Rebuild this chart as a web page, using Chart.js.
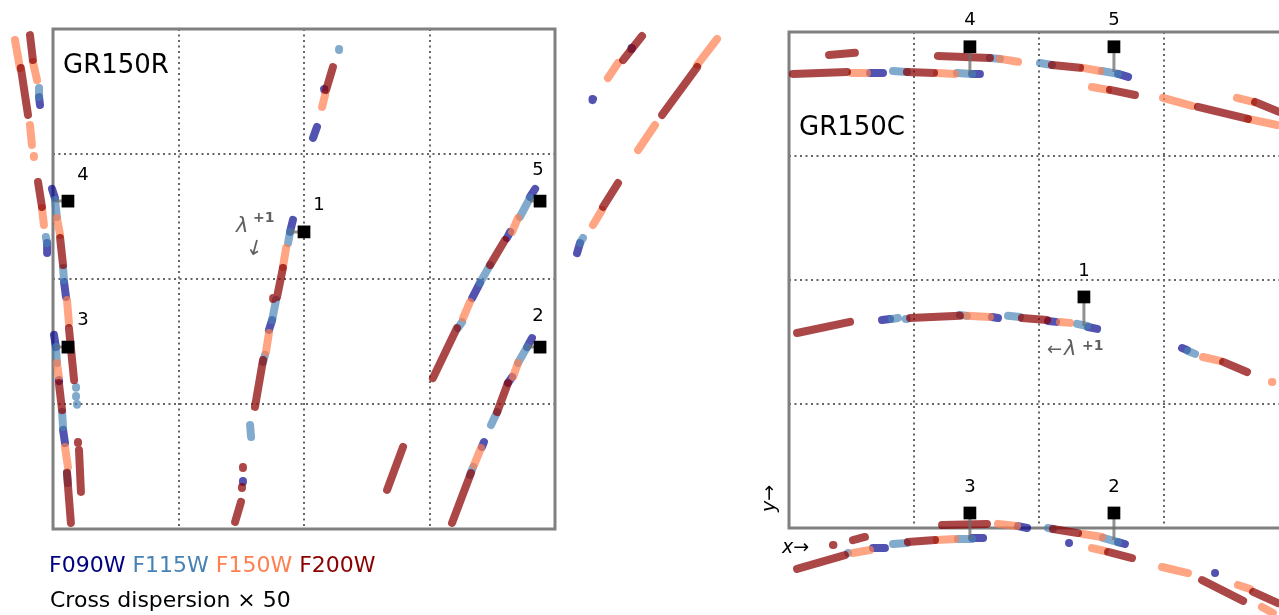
<!DOCTYPE html>
<html>
<head>
<meta charset="utf-8">
<script src="https://cdn.jsdelivr.net/npm/chart.js@4.4.1/dist/chart.umd.min.js"></script>
<style>
  body { margin: 0; width: 1279px; height: 615px; overflow: hidden; background: #fff; position: relative; font-family: 'DejaVu Sans', sans-serif; }
  #cR { position: absolute; left: 0; top: 0; }
  #cC { position: absolute; left: 760px; top: 0; }
  .t { position: absolute; white-space: nowrap; line-height: 1; }
  .ann { color: #606060; }
</style>
</head>
<body>
<canvas id="cR" width="760" height="615"></canvas>
<canvas id="cC" width="560" height="615"></canvas>

<div class="t" style="left:63px;top:51px;font-size:26px;">GR150R</div>
<div class="t" style="left:799px;top:113px;font-size:26px;">GR150C</div>

<div class="t" style="left:49px;top:554px;font-size:22px;"><span style="color:#000080">F090W</span> <span style="color:#4682b4">F115W</span> <span style="color:#ff7f50">F150W</span> <span style="color:#8b0000">F200W</span></div>
<div class="t" style="left:50px;top:589px;font-size:22px;">Cross dispersion × 50</div>

<div class="t ann" style="left:236px;top:215px;font-size:21px;font-style:italic;">λ</div>
<div class="t ann" style="left:253px;top:210px;font-size:14px;font-weight:bold;">+1</div>
<div class="t ann" style="left:246px;top:238px;font-size:21px;transform:rotate(15deg);">↓</div>

<div class="t ann" style="left:1047px;top:340px;font-size:18px;">←</div>
<div class="t ann" style="left:1064px;top:338px;font-size:21px;font-style:italic;">λ</div>
<div class="t ann" style="left:1082px;top:338px;font-size:14px;font-weight:bold;">+1</div>

<div class="t" style="left:782px;top:537px;font-size:19px;"><i>x</i>→</div>
<div class="t" style="left:755px;top:489px;font-size:19px;transform:rotate(-90deg);transform-origin:center;"><i>y</i>→</div>

<script>
// sources and labels
const srcIds = ['1', '2', '3', '4', '5'];

// GR150R: source reference positions (detector px) and trace anchor x
const rSrcX = [1024, 1987, 61, 61, 1987];
const rSrcY = [1217, 745, 745, 1343, 1343];
const rLinkX = [967, 1934, 12, 8, 1946];

// GR150C: source reference positions and trace anchor y
const cSrcX = [1208, 1331, 741, 741, 1331];
const cSrcY = [954, 62, 62, 1987, 1987];
const cLinkY = [834, -50, -45, 1875, 1883];

// trace pieces, [x1, y1, x2, y2] per filter
const rF090W = [
  [-57, 1769, -53, 1737], [-24, 1171, -24, 1130], [-4, 1393, 8, 1356], [45, 1012, 53, 950],
  [4, 795, 12, 745], [24, 610, 25, 606], [41, 406, 49, 352],
  [1106, 1802, 1107, 1798], [1077, 1647, 1061, 1602], [979, 1266, 967, 1217], [894, 856, 881, 815],
  [775, 197, 775, 193],
  [1967, 1393, 1946, 1360], [1865, 1217, 1852, 1192], [1742, 1008, 1710, 946],
  [1954, 782, 1934, 745], [1873, 623, 1856, 598], [1758, 356, 1750, 336],
  [2362, 1970, 2360, 1966], [2203, 1761, 2201, 1757], [2150, 1171, 2138, 1130]
];
const rF115W = [
  [-57, 1806, -57, 1769], [-29, 1196, -24, 1171], [8, 1348, 16, 1278], [41, 1069, 45, 1020],
  [94, 582, 94, 579], [94, 545, 94, 542], [98, 512, 98, 509],
  [12, 745, 16, 680], [37, 479, 41, 418], [57, 233, 61, 188],
  [1167, 1966, 1167, 1962], [967, 1217, 959, 1171], [910, 938, 894, 856], [865, 713, 857, 684],
  [804, 426, 808, 377],
  [1946, 1356, 1905, 1278], [1783, 1081, 1742, 1008], [1669, 848, 1652, 823],
  [1934, 745, 1897, 680], [1812, 479, 1787, 426], [1714, 254, 1701, 221],
  [2162, 1192, 2150, 1171]
];
const rF150W = [
  [-155, 2003, -135, 1888], [-94, 1655, -86, 1573], [-78, 1528, -78, 1524], [-82, 1913, -65, 1839],
  [-45, 1315, -37, 1245], [16, 1274, 29, 1204], [57, 938, 65, 844], [16, 680, 24, 623], [49, 336, 61, 254],
  [1110, 1778, 1098, 1729], [951, 1151, 938, 1073], [881, 803, 869, 725],
  [1897, 1274, 1873, 1217], [1701, 930, 1673, 864], [1897, 680, 1877, 623], [1746, 332, 1718, 262],
  [2305, 1909, 2264, 1847], [2709, 2007, 2628, 1901], [2456, 1655, 2387, 1552], [2240, 1307, 2203, 1245]
];
const rF200W = [
  [-131, 1888, -102, 1696], [-94, 2023, -82, 1921], [-61, 1421, -45, 1319], [29, 1192, 41, 1081],
  [65, 823, 86, 610], [24, 598, 37, 487], [57, 229, 73, 25], [102, 356, 102, 352], [106, 324, 114, 152],
  [1142, 1892, 1114, 1798], [938, 1069, 914, 950], [898, 946, 898, 942], [857, 692, 824, 500],
  [775, 254, 775, 250], [771, 172, 771, 168], [767, 111, 743, 29],
  [1844, 1184, 1783, 1081], [1648, 823, 1550, 618], [1856, 598, 1812, 479], [1705, 229, 1628, 25],
  [1428, 336, 1363, 160],
  [2403, 2019, 2326, 1921], [2628, 1892, 2485, 1696], [2305, 1417, 2244, 1319]
];

const cF090W = [
  [332, 1879, 385, 1879], [750, 1875, 782, 1875], [1348, 1875, 1389, 1863],
  [381, 859, 414, 863], [831, 871, 856, 867], [1061, 855, 1094, 851], [1225, 830, 1262, 822],
  [1610, 743, 1630, 735],
  [938, 8, 975, 0], [344, -83, 393, -83], [750, -41, 795, -41], [1348, -58, 1376, -66],
  [1147, -62, 1149, -62], [1745, -186, 1747, -186]
];
const cF115W = [
  [426, 1887, 483, 1883], [688, 1879, 750, 1875], [823, 1941, 864, 1937], [1028, 1920, 1077, 1912],
  [1282, 1887, 1348, 1875],
  [422, 863, 446, 867], [478, 863, 483, 863], [700, 880, 729, 876], [897, 876, 946, 871],
  [1180, 843, 1221, 834], [1634, 731, 1663, 719],
  [242, -103, 244, -103], [426, -66, 483, -62], [692, -45, 750, -45], [1061, 0, 1081, -4],
  [1286, -41, 1348, -58]
];
const cF150W = [
  [258, 1879, 319, 1879], [606, 1879, 680, 1875], [864, 1937, 938, 1925], [1204, 1900, 1274, 1887],
  [1241, 1821, 1307, 1809], [1532, 1776, 1651, 1743], [1880, 1689, 1999, 1664], [1835, 1776, 1901, 1759],
  [729, 876, 823, 871], [1110, 851, 1151, 847], [1696, 706, 1765, 690], [1978, 603, 1980, 603],
  [856, 17, 934, 8], [262, -103, 332, -91], [606, -50, 680, -45], [1204, -25, 1282, -37],
  [1241, -83, 1294, -95], [1528, -161, 1634, -186], [1839, -235, 1888, -252], [1937, -326, 1982, -351]
];
const cF200W = [
  [16, 1875, 238, 1883], [164, 1953, 270, 1962], [483, 1883, 594, 1879], [610, 1949, 823, 1941],
  [1077, 1912, 1192, 1900], [1315, 1809, 1417, 1788], [1675, 1739, 1880, 1689], [1909, 1759, 2007, 1718],
  [33, 805, 250, 851], [496, 867, 700, 876], [954, 867, 1057, 859], [1778, 686, 1876, 644],
  [627, 12, 811, 17], [33, -169, 229, -112], [180, -70, 182, -70], [262, -50, 311, -37],
  [487, -58, 598, -50], [1081, -4, 1184, -21], [1307, -99, 1405, -124], [1692, -215, 1860, -301],
  [1901, -264, 2003, -310]
];

const filterColors = ['rgba(0,0,139,0.68)', 'rgba(70,130,180,0.68)', 'rgba(255,127,80,0.7)', 'rgba(139,0,0,0.72)'];

function segData(segs) {
  const d = [];
  segs.forEach(s => {
    d.push({ x: s[0], y: s[1] }, { x: s[2], y: s[3] }, { x: s[2], y: null });
  });
  return d;
}

function traceSets(lists) {
  return lists.map((segs, i) => ({
    data: segData(segs),
    borderColor: filterColors[i],
    borderWidth: 8,
    borderCapStyle: 'round',
    borderJoinStyle: 'round',
    pointRadius: 0,
    spanGaps: false,
    clip: false,
    order: 5 - i
  }));
}

function linkSet(pairs) {
  const d = [];
  pairs.forEach(p => d.push({ x: p[0], y: p[1] }, { x: p[2], y: p[3] }, { x: p[2], y: null }));
  return {
    data: d, borderColor: 'rgba(110,110,110,0.75)', borderWidth: 3,
    pointRadius: 0, spanGaps: false, clip: false, order: 1
  };
}

function srcSet(xs, ys) {
  return {
    data: xs.map((x, i) => ({ x: x, y: ys[i] })),
    showLine: false, pointStyle: 'rect', pointRadius: 9,
    backgroundColor: '#000', borderColor: '#000', borderWidth: 0,
    clip: false, order: 0
  };
}

const framePlugin = {
  id: 'frame',
  beforeDatasetsDraw(chart) {
    const a = chart.chartArea, ctx = chart.ctx;
    ctx.save();
    ctx.strokeStyle = '#808080';
    ctx.lineWidth = 3;
    ctx.strokeRect(a.left, a.top, a.right - a.left, a.bottom - a.top);
    ctx.restore();
  }
};

function labelPlugin(xs, ys, offs) {
  return {
    id: 'srcLabels',
    afterDatasetsDraw(chart) {
      const ctx = chart.ctx, sx = chart.scales.x, sy = chart.scales.y;
      ctx.save();
      ctx.font = '18px "DejaVu Sans"';
      ctx.fillStyle = '#000';
      ctx.textAlign = 'center';
      ctx.textBaseline = 'middle';
      srcIds.forEach((id, i) => {
        ctx.fillText(id, sx.getPixelForValue(xs[i]) + offs[i][0], sy.getPixelForValue(ys[i]) + offs[i][1]);
      });
      ctx.restore();
    }
  };
}

function axis() {
  return {
    type: 'linear', min: 0, max: 2048,
    ticks: { display: false, stepSize: 512 },
    grid: { color: '#666666', lineWidth: 2, drawTicks: false, tickBorderDash: [2, 3.5] },
    border: { display: false, dash: [2, 3.5] }
  };
}

function makeChart(id, lists, extra, padding, plugins) {
  return new Chart(document.getElementById(id), {
    type: 'line',
    data: { datasets: traceSets(lists).concat(extra) },
    options: {
      responsive: false,
      animation: false,
      layout: { padding: padding },
      plugins: { legend: { display: false }, tooltip: { enabled: false } },
      scales: { x: axis(), y: axis() }
    },
    plugins: plugins
  });
}

makeChart('cR', [rF090W, rF115W, rF150W, rF200W],
  [linkSet(srcIds.map((s, i) => [rLinkX[i], rSrcY[i], rSrcX[i], rSrcY[i]])), srcSet(rSrcX, rSrcY)],
  { left: 53, right: 205, top: 29, bottom: 86 },
  [framePlugin, labelPlugin(rSrcX, rSrcY, [[15, -27], [-2, -31], [15, -27], [15, -26], [-2, -31]])]);

makeChart('cC', [cF090W, cF115W, cF150W, cF200W],
  [linkSet(srcIds.map((s, i) => [cSrcX[i], cLinkY[i], cSrcX[i], cSrcY[i]])), srcSet(cSrcX, cSrcY)],
  { left: 29, right: 31, top: 32, bottom: 87 },
  [framePlugin, labelPlugin(cSrcX, cSrcY, [[0, -26], [0, -26], [0, -26], [0, -26], [0, -26]])]);
</script>
</body>
</html>
